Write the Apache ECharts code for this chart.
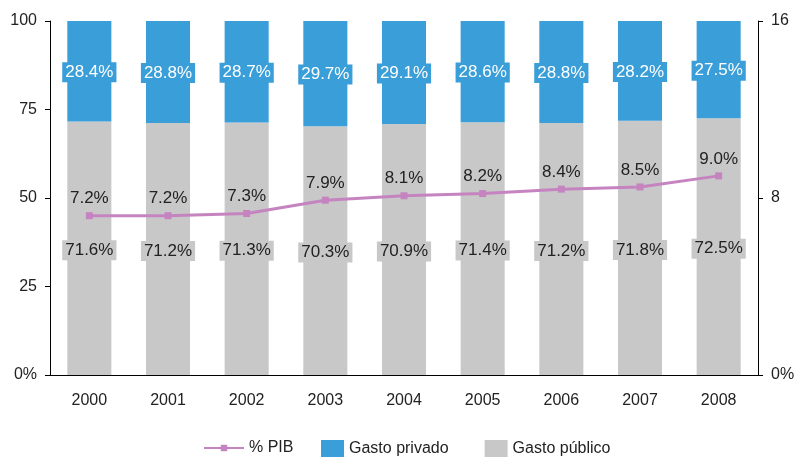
<!DOCTYPE html>
<html>
<head>
<meta charset="utf-8">
<script src="https://cdn.jsdelivr.net/npm/echarts@6/dist/echarts.min.js"></script>
<style>
  html, body { margin: 0; padding: 0; background: #fff; }
  #main { width: 796px; height: 457px; }
</style>
</head>
<body>
<div id="main"></div>
<script>
var years = ['2000', '2001', '2002', '2003', '2004', '2005', '2006', '2007', '2008'];
var gastoPublico = [71.6, 71.2, 71.3, 70.3, 70.9, 71.4, 71.2, 71.8, 72.5];
var gastoPrivado = [28.4, 28.8, 28.7, 29.7, 29.1, 28.6, 28.8, 28.2, 27.5];
var pib = [7.2, 7.2, 7.3, 7.9, 8.1, 8.2, 8.4, 8.5, 9.0];

var font = 'Liberation Sans, Arial, sans-serif';
var blue = '#3a9ed8';
var gray = '#c8c8c9';
var purple = '#c584c0';

function pct(p) { return p.value.toFixed(1) + '%'; }
function tick(v) { return v === 0 ? '0%' : String(v); }

var chart = echarts.init(document.getElementById('main'));
var option = {
    animation: false,
    textStyle: { fontFamily: font },
    grid: {
        left: 50,
        right: 38,
        top: 21,
        bottom: 82,
        outerBoundsMode: 'none'
    },
    legend: [{
        data: ['% PIB'],
        left: 203,
        top: 440,
        padding: 0,
        itemWidth: 40,
        itemHeight: 8,
        itemGap: 6,
        textStyle: { fontSize: 16, color: '#222', fontFamily: font }
    }, {
        data: ['Gasto privado', 'Gasto público'],
        left: 321,
        top: 440,
        padding: 0,
        icon: 'rect',
        itemWidth: 23,
        itemHeight: 17,
        itemGap: 36,
        textStyle: { fontSize: 16, color: '#222', fontFamily: font }
    }],
    xAxis: {
        type: 'category',
        data: years,
        axisTick: { show: false },
        axisLine: { lineStyle: { color: '#000', width: 1 } },
        axisLabel: { color: '#222', fontSize: 16, margin: 18 }
    },
    yAxis: [{
        type: 'value',
        min: 0,
        max: 100,
        interval: 25,
        axisLine: { show: true, lineStyle: { color: '#000' } },
        axisTick: { show: true, length: 5, lineStyle: { color: '#000' } },
        splitLine: { show: false },
        axisLabel: { color: '#222', fontSize: 16, margin: 13, formatter: tick }
    }, {
        type: 'value',
        min: 0,
        max: 16,
        interval: 8,
        position: 'right',
        axisLine: { show: true, lineStyle: { color: '#000' } },
        axisTick: { show: true, length: 5, lineStyle: { color: '#000' } },
        splitLine: { show: false },
        axisLabel: { color: '#222', fontSize: 16, margin: 13, formatter: tick }
    }],
    series: [{
        name: 'Gasto público',
        type: 'bar',
        stack: 'total',
        barWidth: '56%',
        itemStyle: { color: gray },
        label: {
            show: true,
            position: 'inside',
            offset: [0, 2],
            color: '#222',
            fontSize: 17,
            backgroundColor: gray,
            padding: [2, 3, 1, 3],
            formatter: pct
        },
        data: gastoPublico
    }, {
        name: 'Gasto privado',
        type: 'bar',
        stack: 'total',
        itemStyle: { color: blue },
        label: {
            show: true,
            position: 'inside',
            offset: [0, 1],
            color: '#fff',
            fontSize: 17,
            backgroundColor: blue,
            padding: [2, 3, 1, 3],
            formatter: pct
        },
        data: gastoPrivado
    }, {
        name: '% PIB',
        type: 'line',
        yAxisIndex: 1,
        symbol: 'rect',
        symbolSize: 7,
        lineStyle: { color: purple, width: 3 },
        itemStyle: { color: purple },
        label: {
            show: true,
            position: 'top',
            distance: 5,
            color: '#222',
            fontSize: 17,
            formatter: pct
        },
        data: pib
    }]
};
chart.setOption(option);
</script>
</body>
</html>
